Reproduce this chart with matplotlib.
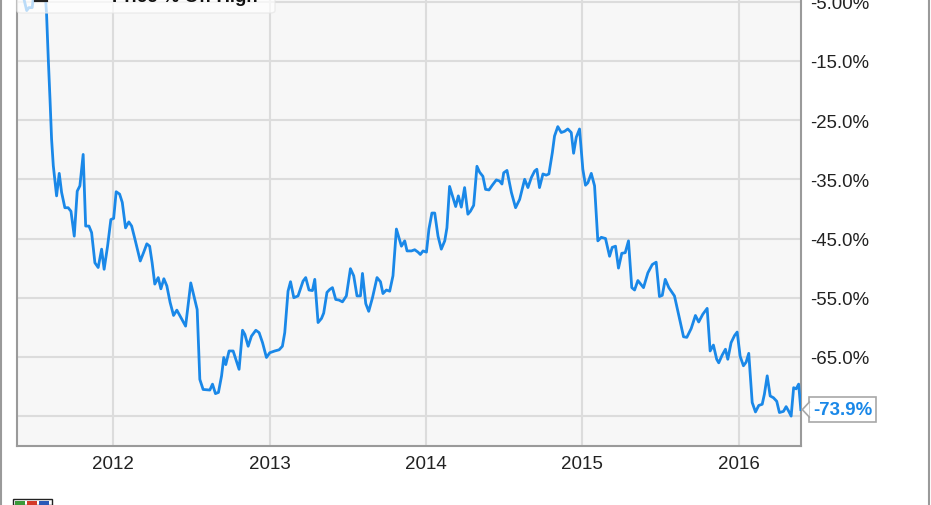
import matplotlib
matplotlib.use("Agg")
import matplotlib.pyplot as plt
from matplotlib.patches import FancyBboxPatch, Rectangle, Polygon
from matplotlib.lines import Line2D

# decimal-year dates and % off high
dates = [2011.415, 2011.447, 2011.461, 2011.482, 2011.500, 2011.532, 2011.568, 2011.574, 2011.585, 2011.596,
         2011.606, 2011.617, 2011.638, 2011.655, 2011.670, 2011.691, 2011.712, 2011.730, 2011.751, 2011.770,
         2011.787, 2011.808, 2011.824, 2011.845, 2011.862, 2011.883, 2011.904, 2011.926, 2011.942, 2011.964,
         2011.985, 2012.003, 2012.019, 2012.041, 2012.058, 2012.079, 2012.100, 2012.118, 2012.139, 2012.173,
         2012.194, 2012.215, 2012.233, 2012.249, 2012.266, 2012.288, 2012.305, 2012.324, 2012.343, 2012.364,
         2012.386, 2012.407, 2012.428, 2012.463, 2012.496, 2012.537, 2012.554, 2012.575, 2012.618, 2012.635,
         2012.654, 2012.673, 2012.693, 2012.707, 2012.720, 2012.741, 2012.767, 2012.784, 2012.805, 2012.827,
         2012.842, 2012.863, 2012.884, 2012.912, 2012.933, 2012.955, 2012.980, 2013.001, 2013.033, 2013.061,
         2013.082, 2013.097, 2013.118, 2013.134, 2013.155, 2013.182, 2013.214, 2013.231, 2013.252, 2013.274,
         2013.289, 2013.310, 2013.332, 2013.346, 2013.367, 2013.385, 2013.402, 2013.423, 2013.444, 2013.466,
         2013.491, 2013.517, 2013.538, 2013.559, 2013.581, 2013.594, 2013.615, 2013.634, 2013.658, 2013.687,
         2013.709, 2013.725, 2013.747, 2013.768, 2013.789, 2013.811, 2013.843, 2013.864, 2013.879, 2013.907,
         2013.928, 2013.949, 2013.964, 2013.981, 2014.003, 2014.019, 2014.038, 2014.056, 2014.077, 2014.098,
         2014.120, 2014.134, 2014.151, 2014.173, 2014.190, 2014.207, 2014.226, 2014.247, 2014.268, 2014.284,
         2014.305, 2014.326, 2014.343, 2014.364, 2014.381, 2014.403, 2014.424, 2014.450, 2014.471, 2014.486,
         2014.497, 2014.518, 2014.546, 2014.573, 2014.599, 2014.631, 2014.652, 2014.674, 2014.695, 2014.709,
         2014.726, 2014.748, 2014.769, 2014.786, 2014.808, 2014.822, 2014.843, 2014.865, 2014.886, 2014.907,
         2014.929, 2014.944, 2014.961, 2014.982, 2015.003, 2015.020, 2015.035, 2015.057, 2015.078, 2015.099,
         2015.121, 2015.148, 2015.174, 2015.191, 2015.212, 2015.231, 2015.252, 2015.274, 2015.295, 2015.316,
         2015.334, 2015.355, 2015.391, 2015.419, 2015.447, 2015.472, 2015.493, 2015.511, 2015.530, 2015.553,
         2015.589, 2015.615, 2015.647, 2015.668, 2015.696, 2015.723, 2015.744, 2015.770, 2015.798, 2015.817,
         2015.838, 2015.859, 2015.872, 2015.894, 2015.915, 2015.930, 2015.951, 2015.973, 2015.990, 2016.009,
         2016.030, 2016.047, 2016.064, 2016.086, 2016.107, 2016.128, 2016.150, 2016.164, 2016.182, 2016.201,
         2016.222, 2016.243, 2016.260, 2016.286, 2016.303, 2016.320, 2016.335, 2016.351, 2016.367, 2016.383,
         2016.397]

pct_off_high = [-3.0, -6.5, -6.0, -6.0, -2.0, -0.5, -4.6, -7.1, -14.7, -21.5,
                -28.2, -32.7, -37.8, -34.0, -37.2, -39.8, -39.8, -40.4, -44.6, -37.0,
                -36.1, -30.8, -42.9, -42.9, -44.0, -49.1, -49.9, -46.8, -50.2, -46.3,
                -41.8, -41.6, -37.1, -37.5, -38.9, -43.2, -42.2, -42.9, -45.1, -48.8,
                -47.4, -45.9, -46.3, -49.1, -52.7, -51.6, -53.5, -51.8, -53.0, -55.8,
                -58.0, -57.1, -58.1, -59.8, -52.5, -57.0, -68.8, -70.5, -70.6, -69.6,
                -71.2, -71.0, -68.2, -65.1, -66.3, -64.0, -64.0, -65.4, -67.1, -60.5,
                -61.2, -63.2, -61.5, -60.5, -60.9, -62.6, -65.1, -64.3, -64.0, -63.8,
                -63.2, -60.9, -53.9, -52.3, -55.0, -54.7, -52.2, -51.6, -53.7, -53.8,
                -51.9, -59.2, -58.5, -57.6, -54.1, -53.6, -53.3, -55.3, -55.4, -55.7,
                -54.7, -50.1, -51.3, -54.7, -54.7, -50.9, -56.0, -57.3, -55.0, -51.6,
                -52.3, -54.3, -53.7, -53.9, -51.3, -43.4, -46.3, -45.4, -47.1, -47.1,
                -46.9, -47.3, -47.7, -47.1, -47.3, -43.4, -40.7, -40.7, -44.6, -46.8,
                -45.4, -43.2, -36.2, -38.1, -39.6, -37.8, -39.7, -36.4, -40.9, -40.4,
                -39.4, -32.8, -33.8, -34.5, -36.7, -36.8, -36.0, -35.1, -35.3, -35.8,
                -33.9, -33.5, -37.2, -39.8, -38.4, -35.0, -36.4, -34.7, -33.6, -33.3,
                -36.4, -34.1, -34.3, -34.1, -30.5, -27.7, -26.1, -27.1, -26.9, -26.5,
                -27.1, -30.6, -27.9, -26.5, -33.3, -36.0, -35.6, -34.0, -36.1, -45.4,
                -44.8, -45.0, -48.0, -46.5, -46.3, -50.0, -47.5, -47.4, -45.4, -53.3,
                -53.7, -52.1, -53.3, -50.8, -49.4, -49.0, -54.8, -54.6, -51.9, -53.3,
                -54.7, -57.8, -61.6, -61.7, -60.2, -58.0, -59.1, -57.8, -56.8, -64.0,
                -63.0, -65.4, -66.0, -64.7, -63.7, -65.4, -62.6, -61.4, -60.8, -64.9,
                -66.5, -65.9, -64.4, -72.7, -74.3, -73.2, -73.0, -71.3, -68.2, -71.6,
                -71.9, -72.5, -74.4, -74.2, -73.4, -74.2, -75.0, -70.2, -70.4, -69.6,
                -73.9]

year_ticks = [2012, 2013, 2014, 2015, 2016]
year_labels = ["2012", "2013", "2014", "2015", "2016"]
pct_ticks = [-75, -65, -55, -45, -35, -25, -15, -5]
pct_labels = ["", "-65.0%", "-55.0%", "-45.0%", "-35.0%", "-25.0%", "-15.0%", "-5.00%"]
series_name = "Price % Off High"

assert len(dates) == len(pct_off_high), (len(dates), len(pct_off_high))

LINE = "#1a88e8"
W, H = 931, 506

fig = plt.figure(figsize=(W / 100, H / 100), dpi=100)
fig.patch.set_facecolor("white")

# plot area runs above the top of the image (the chart is cropped)
ax = fig.add_axes([16.7 / W, 59.3 / H, 784.6 / W, 503.2 / H])
ax.set_facecolor("#f7f7f7")
ax.plot(dates, pct_off_high, color=LINE, lw=2.0, zorder=3, solid_joinstyle="round")

ax.set_xlim(2011.383, 2016.40)
ax.set_ylim(-80, 5)

ax.set_xticks(year_ticks)
ax.set_xticklabels(year_labels, family="Liberation Sans", fontsize=13.5, color="#222222")
ax.yaxis.tick_right()
ax.set_yticks(pct_ticks)
ax.set_yticklabels(pct_labels, family="Liberation Sans", fontsize=13.4, color="#222222")
ax.tick_params(axis="x", length=0, pad=7)
ax.tick_params(axis="y", length=0, pad=6)
ax.grid(True, color="#dcdcdc", lw=1.5, zorder=0)
ax.set_axisbelow(True)

for side in ("left", "bottom", "right"):
    ax.spines[side].set_color("#9a9a9a")
    ax.spines[side].set_linewidth(1.5)
ax.spines["top"].set_visible(False)

# end-of-series value callout
px, py = ax.transData.transform((dates[-1], pct_off_high[-1]))
ax.annotate(f"{pct_off_high[-1]:.1f}%", xy=(dates[-1], pct_off_high[-1]), xytext=(12, 0),
            textcoords="offset pixels", ha="left", va="center", color=LINE,
            fontweight="bold", fontsize=13.4, family="Liberation Sans",
            bbox=dict(boxstyle="square,pad=0.22", fc="white", ec="#a8a8a8", lw=1.2),
            annotation_clip=False, zorder=6)
notch = [((px + 1.5) / W, py / H), ((px + 8.5) / W, (py + 7.5) / H), ((px + 8.5) / W, (py - 7.5) / H)]
fig.add_artist(Polygon(notch, closed=True, transform=fig.transFigure, fc="white", ec="none", zorder=7))
fig.add_artist(Line2D([notch[1][0], notch[0][0], notch[2][0]], [notch[1][1], notch[0][1], notch[2][1]],
                      transform=fig.transFigure, color="#a8a8a8", lw=1.2, zorder=8))

# legend box (cut off at the top)
fig.add_artist(FancyBboxPatch((17 / W, 1 - 14 / H), 258 / W, 0.1, boxstyle="round,pad=0,rounding_size=0.005",
                              transform=fig.transFigure, fc="white", ec="#e6e6e6", lw=1, alpha=0.7, zorder=4))
fig.text(258 / W, 1 - 1.7 / H, series_name, ha="right", va="baseline", fontsize=13.4,
         fontweight="bold", family="Liberation Sans", color="#111111", zorder=5)
fig.add_artist(Line2D([36 / W, 46 / W], [1 - 0.5 / H, 1 - 0.5 / H], transform=fig.transFigure,
                      color="#222222", lw=3, zorder=5))

# outer chart border
for xb in (1, 929):
    fig.add_artist(Line2D([xb / W, xb / W], [0, 1], transform=fig.transFigure, color="#9a9a9a", lw=1.5))

# small logo at bottom left
fig.add_artist(Rectangle((13 / W, 0), 39 / W, 6 / H, transform=fig.transFigure, fc="white", ec="#222222", lw=1))
for i, c in enumerate(["#3a9a3a", "#d33a2a", "#2a5ab8"]):
    fig.add_artist(Rectangle(((15 + i * 12) / W, 0), 10 / W, 4.5 / H, transform=fig.transFigure, fc=c, ec="none"))

fig.savefig("out.png", dpi=100, facecolor="white")
